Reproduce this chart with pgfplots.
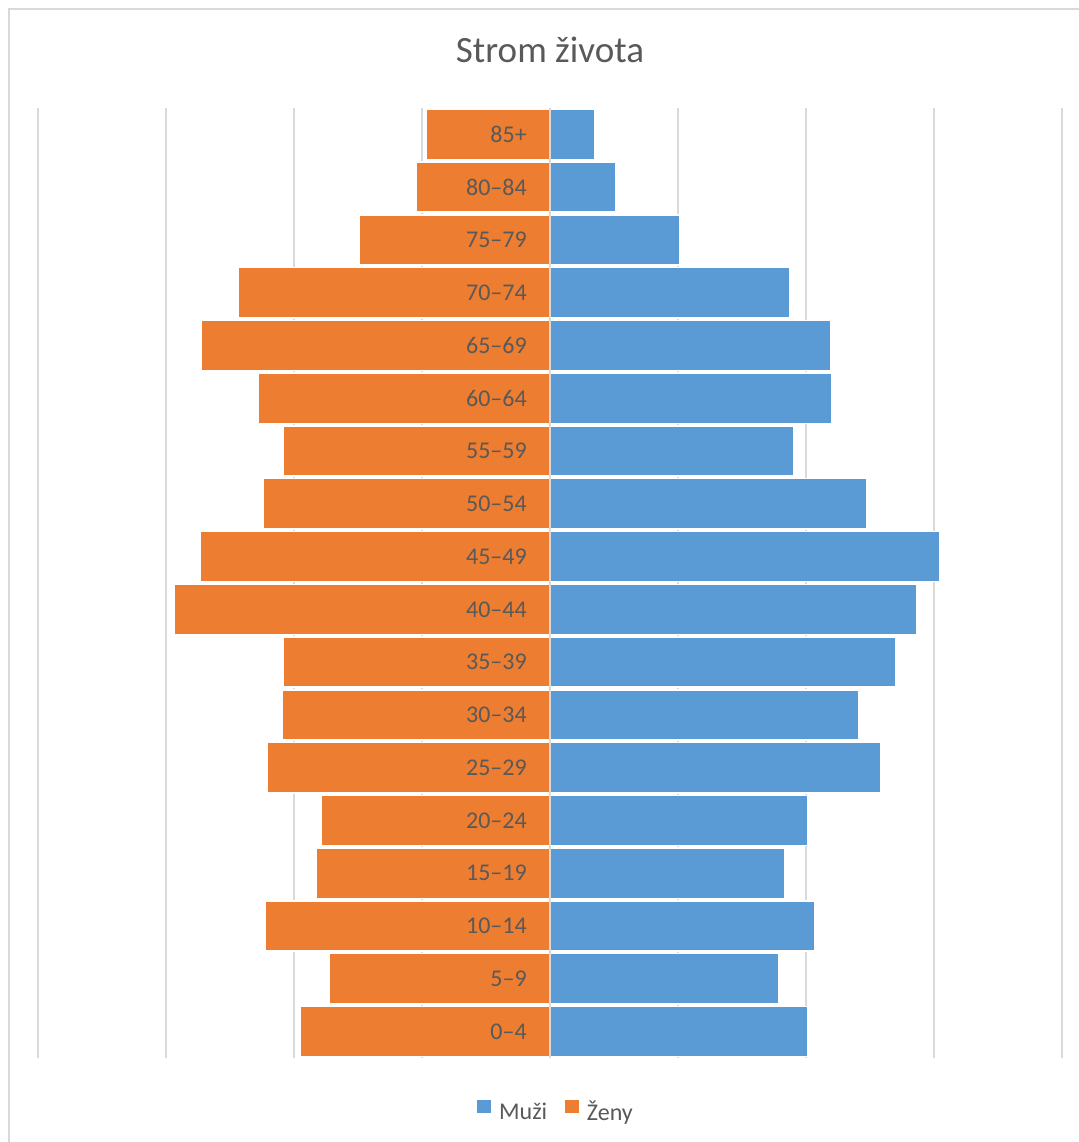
\documentclass[border=0pt]{standalone}
\usepackage{pgfplots}
\pgfplotsset{compat=1.18}
\usepackage{fontspec}
\setmainfont{Carlito}

\definecolor{muzi}{HTML}{5B9BD5}
\definecolor{zeny}{HTML}{ED7D31}
\definecolor{txt}{HTML}{595959}
\definecolor{grd}{HTML}{D9D9D9}

\pgfplotsset{
  pyramid/.style={
    at={(0,0)}, anchor=south west,
    scale only axis, width=768pt, height=712.5pt,
    xmin=-4, xmax=4, ymin=-0.5, ymax=17.5,
    axis line style={draw=none}, major tick length=0pt,
  },
}

\begin{document}
\begin{tikzpicture}
% page frame: 1 px of the reference = 0.75pt
\useasboundingbox (-28.5pt,-63pt) rectangle (780pt,793.5pt);
\draw[grd, line width=1.5pt] (-22.1pt,-80pt) -- (-22.1pt,787.1pt) -- (800pt,787.1pt);
\node[anchor=base, text=txt, font=\fontsize{27.8}{33}\selectfont] at (384pt,746.25pt) {Strom života};

\begin{axis}[
    pyramid,
    xbar, bar width=0.95, bar shift=0pt,
    xtick={-4,...,4}, xticklabels={},
    xmajorgrids, grid style={grd, line width=1.5pt},
    ytick=\empty,
    every axis plot/.append style={draw=white, line width=1.1pt},
    legend columns=-1,
    legend style={at={(0.505,-0.056)}, anchor=center, draw=none, text=txt,
      font=\fontsize{18}{22}\selectfont,
      nodes={inner sep=0pt},
      /tikz/every odd column/.append style={column sep=6pt},
      /tikz/every even column/.append style={column sep=13.5pt}},
    legend image code/.code={\fill[#1, draw=none] (0pt,-1pt) rectangle (10.3pt,9.3pt);},
]
\addplot[fill=muzi] coordinates {
 (2.016,0) (1.789,1) (2.070,2) (1.836,3) (2.016,4) (2.586,5)
 (2.414,6) (2.703,7) (2.867,8) (3.047,9) (2.477,10) (1.906,11)
 (2.203,12) (2.195,13) (1.875,14) (1.016,15) (0.516,16) (0.352,17)};
\addplot[fill=zeny] coordinates {
 (-1.953,0) (-1.727,1) (-2.227,2) (-1.828,3) (-1.789,4) (-2.211,5)
 (-2.094,6) (-2.086,7) (-2.938,8) (-2.734,9) (-2.242,10) (-2.086,11)
 (-2.281,12) (-2.727,13) (-2.438,14) (-1.492,15) (-1.047,16) (-0.969,17)};
\legend{Muži,Ženy}
\draw[grd, line width=1.5pt] (axis cs:0,-0.5) -- (axis cs:0,17.5);
\end{axis}

% second axis on top, only for the age-group labels
\begin{axis}[
    pyramid,
    xtick=\empty,
    ytick={0,...,17},
    yticklabels={0–4,5–9,10–14,15–19,20–24,25–29,30–34,35–39,40–44,45–49,50–54,55–59,60–64,65–69,70–74,75–79,80–84,85+},
    yticklabel style={anchor=east, inner sep=0pt, xshift=366.75pt, text=txt, font=\fontsize{18}{22}\selectfont},
]
\end{axis}
\end{tikzpicture}
\end{document}
